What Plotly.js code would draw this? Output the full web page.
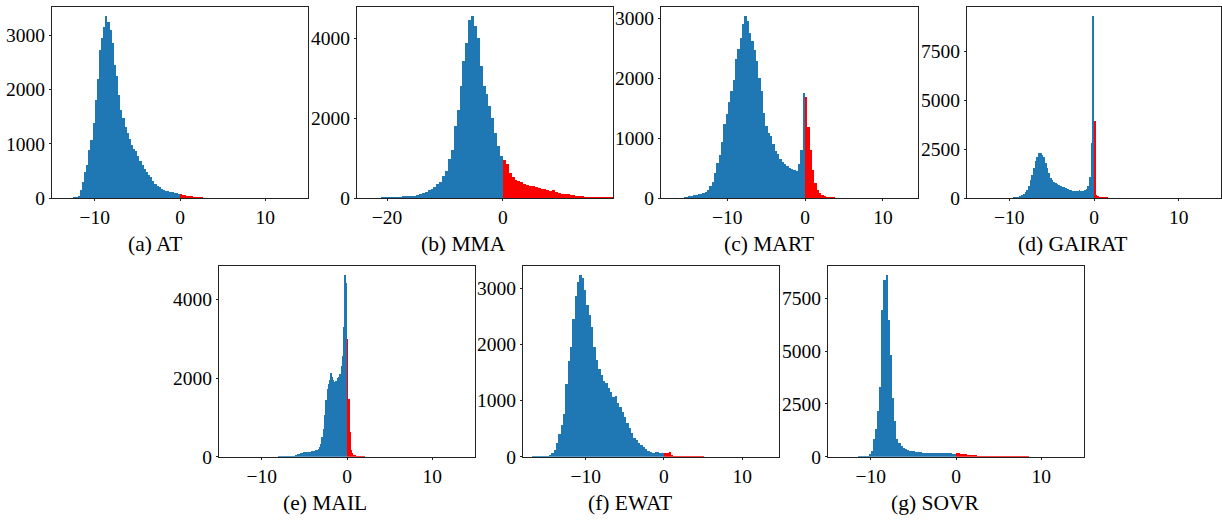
<!DOCTYPE html>
<html>
<head>
<meta charset="utf-8">
<script src="https://cdn.plot.ly/plotly-3.0.1.min.js"></script>
<style>html,body{margin:0;padding:0;background:#fff}#chart{width:1222px;height:525px}</style>
</head>
<body>
<div id="chart"></div>
<script>
// ---------- data (histogram counts) ----------
const panelNames = ["(a) AT", "(b) MMA", "(c) MART", "(d) GAIRAT", "(e) MAIL", "(f) EWAT", "(g) SOVR"];

const AT_BIN = 0.25, AT_BLUE_START = -13.5, AT_RED_START = 0;
const AT_BLUE = [5,5,5,8,12,20,40,150,300,480,
  600,880,1060,1380,1800,2200,2720,2950,3150,3350,
  3250,3100,2850,2450,2250,1900,1620,1480,1300,1200,
  1085,980,900,860,780,690,600,525,470,425,
  380,320,260,230,196,170,150,135,125,115,
  105,98,90,82];
const AT_RED = [72,62,55,45,38,32,25,20,16,13,10,8,6,5,4];

const MMA_BIN = 0.5, MMA_BLUE_START = -25, MMA_RED_START = 0;
const MMA_BLUE = [10,10,10,10,10,12,12,12,14,15,
  20,25,25,25,28,50,40,45,55,60,
  70,95,125,150,190,230,280,360,400,560,
  680,980,1200,1800,2200,2800,3430,3870,4450,4550,
  4300,4000,3300,2800,2600,2300,2000,1620,1290,1050];
const MMA_RED = [960,850,620,530,460,435,410,340,325,310,
  290,268,255,235,215,205,180,205,145,128,
  112,95,88,80,65,58,50,38,32,28,
  25,22,20,18,16,15,14,14];

const MART_BIN = 0.3, MART_BLUE_START = -18, MART_RED_START = 0;
const MART_BLUE = [5,5,5,5,5,6,7,8,17,20,
  27,35,42,55,62,72,85,100,139,194,
  270,420,580,720,930,1230,1410,1610,1780,1970,
  2320,2490,2680,2900,3040,2950,2760,2630,2470,2290,
  2000,1780,1420,1200,1080,1030,910,790,740,650,
  605,575,540,500,480,460,450,560,800,1760];
const MART_RED = [1680,1190,800,470,250,140,85,50,30,22,17,12,10,8,8,8,7,7,7,6,6,6,5,5];

const GAIRAT_BIN = 0.2, GAIRAT_BLUE_START = -12, GAIRAT_RED_START = 0;
const GAIRAT_BLUE = [3,3,4,4,5,6,8,10,12,15,
  17,22,28,35,50,75,100,150,200,300,
  430,640,900,1200,1550,1900,2100,2330,2320,2200,
  2080,1800,1520,1300,1050,900,840,770,710,670,
  610,570,540,500,460,425,395,380,375,372,
  378,390,375,380,392,440,600,1100,2800,9320];
const GAIRAT_RED = [3920,170,90,60,50,40,35,30,25,20,15];

const MAIL_BIN = 0.15, MAIL_BLUE_START = -9, MAIL_RED_START = 0;
const MAIL_BLUE = [3,3,4,4,5,5,6,7,8,9,
  10,11,12,13,15,17,19,22,28,40,
  55,65,75,85,95,105,110,115,119,122,
  125,128,135,142,150,160,170,190,250,330,
  500,700,1050,1440,1720,1850,1960,2140,2030,1950,
  1910,1930,1990,2030,2100,2300,2550,3300,4620,4410];
const MAIL_RED = [2990,1460,640,170,85,50,40,30,22,18,15,12,10,8];

const EWAT_BIN = 0.3, EWAT_BLUE_START = -18, EWAT_RED_START = 0;
const EWAT_BLUE = [3,3,3,3,4,4,5,5,6,8,
  14,30,65,125,240,404,560,760,1300,1700,
  1950,2450,2850,3100,3230,3170,2960,2700,2520,2300,
  1950,1720,1560,1460,1340,1310,1220,1150,1070,1080,
  960,890,800,713,600,505,420,330,297,250,
  208,166,131,101,83,71,83,77,71,59];
const EWAT_RED = [70,72,85,30,18,12,10,8,7,6,6,5,5,5,4,4,4];

const SOVR_BIN = 0.25, SOVR_BLUE_START = -12, SOVR_RED_START = 0;
const SOVR_BLUE = [5,8,10,12,14,16,40,110,250,850,
  1300,2150,3300,6950,8400,8610,6500,4800,2800,1700,
  850,660,520,410,348,316,290,280,268,230,
  215,205,195,190,190,180,175,190,190,185,
  175,175,174,165,158,158,150,142];
const SOVR_RED = [158,158,150,126,110,95,80,70,63,63,55,47,35,32,30,30,28,25,22,20,20,18,17,16,15,15,15,14,13,12,12,12,11,10];

// axis settings
const xRanges = [[-15,15],[-25.2,19],[-18.5,14.5],[-15,15],[-15,15],[-18.0,14.7],[-15,15]];
const xDticks = [10,20,10,10,10,10,10];
const yDticks = [1000,2000,1000,2500,2000,1000,2500];

// ---------- build ----------
const hist = [
  [AT_BIN, AT_BLUE_START, AT_BLUE, AT_RED_START, AT_RED],
  [MMA_BIN, MMA_BLUE_START, MMA_BLUE, MMA_RED_START, MMA_RED],
  [MART_BIN, MART_BLUE_START, MART_BLUE, MART_RED_START, MART_RED],
  [GAIRAT_BIN, GAIRAT_BLUE_START, GAIRAT_BLUE, GAIRAT_RED_START, GAIRAT_RED],
  [MAIL_BIN, MAIL_BLUE_START, MAIL_BLUE, MAIL_RED_START, MAIL_RED],
  [EWAT_BIN, EWAT_BLUE_START, EWAT_BLUE, EWAT_RED_START, EWAT_RED],
  [SOVR_BIN, SOVR_BLUE_START, SOVR_BLUE, SOVR_RED_START, SOVR_RED]
];

const W = 1222, H = 525;
// plot boxes in pixels: [left, right, top, bottom]
const boxes = [
  [52, 308, 7, 198], [357, 613, 7, 198], [661, 918, 7, 198], [967, 1221, 7, 198],
  [219, 475, 266, 456.7], [523, 779, 266, 456.7], [828, 1084, 266, 456.7]
];
const captionPos = [[155,244],[463,244],[769,244],[1072,244],[325,503],[630,503],[935,503]];

const FONT = "Liberation Serif, Times New Roman, serif";
const traces = [];
const layout = {
  width: W, height: H,
  margin: {l:0, r:0, t:0, b:0},
  paper_bgcolor: "#fff", plot_bgcolor: "#fff",
  showlegend: false, barmode: "overlay", bargap: 0,
  font: {family: FONT, size: 19, color: "#000"},
  annotations: []
};

hist.forEach((h, i) => {
  const [bw, bStart, blue, rStart, red] = h;
  const ax = i === 0 ? "" : String(i + 1);
  const bx = blue.map((_, k) => bStart + (k + 0.5) * bw);
  const rx = red.map((_, k) => rStart + (k + 0.5) * bw);
  traces.push({type: "bar", x: bx, y: blue, width: bw, xaxis: "x" + ax, yaxis: "y" + ax,
    marker: {color: "#1f77b4", line: {width: 0}}, hoverinfo: "x+y"});
  traces.push({type: "bar", x: rx, y: red, width: bw, xaxis: "x" + ax, yaxis: "y" + ax,
    marker: {color: "#ff0000", line: {width: 0}}, hoverinfo: "x+y"});
  const ymax = Math.max(...blue, ...red) * 1.05;
  const b = boxes[i];
  const common = {showline: true, mirror: true, linecolor: "#222", linewidth: 1,
    showgrid: false, zeroline: false, ticks: "outside", ticklen: 2, tickcolor: "#222",
    tickfont: {family: FONT, size: 19.5, color: "#000"}, tickformat: "d"};
  layout["xaxis" + ax] = Object.assign({}, common, {
    domain: [b[0] / W, b[1] / W], range: xRanges[i], dtick: xDticks[i], tick0: 0,
    anchor: "y" + ax});
  layout["yaxis" + ax] = Object.assign({}, common, {
    domain: [1 - b[3] / H, 1 - b[2] / H], range: [0, ymax], dtick: yDticks[i], tick0: 0,
    anchor: "x" + ax, ticklabelstandoff: 0});
  layout.annotations.push({text: panelNames[i], xref: "paper", yref: "paper",
    x: captionPos[i][0] / W, y: 1 - captionPos[i][1] / H, xanchor: "center", yanchor: "middle",
    showarrow: false, font: {family: FONT, size: 21.5, color: "#000"}});
});

Plotly.newPlot("chart", traces, layout, {displayModeBar: false, staticPlot: true});
</script>
</body>
</html>
